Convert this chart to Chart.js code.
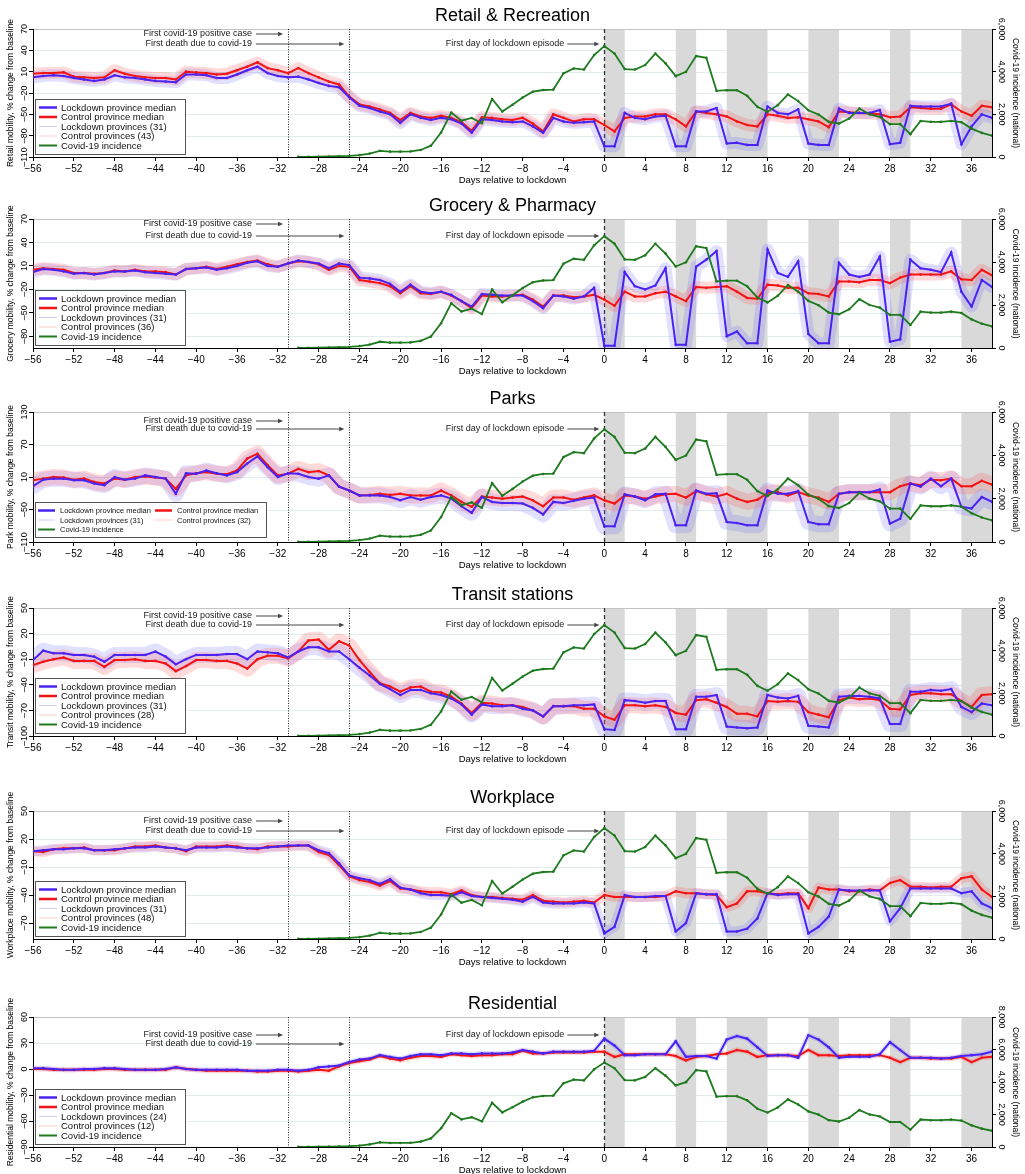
<!DOCTYPE html>
<html>
<head>
<meta charset="utf-8">
<script src="https://cdn.jsdelivr.net/npm/chart.js"></script>
<style>
  html, body { margin: 0; padding: 0; background: #fff; width: 1025px; height: 1174px; overflow: hidden; position: relative; }
  canvas { position: absolute; left: 0; }
</style>
</head>
<body>
<script>
// Días relativos al confinamiento (eje x)
const days = [-56,-55,-54,-53,-52,-51,-50,-49,-48,-47,-46,-45,-44,-43,-42,-41,-40,-39,-38,-37,
  -36,-35,-34,-33,-32,-31,-30,-29,-28,-27,-26,-25,-24,-23,-22,-21,-20,-19,-18,-17,
  -16,-15,-14,-13,-12,-11,-10,-9,-8,-7,-6,-5,-4,-3,-2,-1,0,1,2,3,
  4,5,6,7,8,9,10,11,12,13,14,15,16,17,18,19,20,21,22,23,
  24,25,26,27,28,29,30,31,32,33,34,35,36,37,38];
const xTicks = [-56,-52,-48,-44,-40,-36,-32,-28,-24,-20,-16,-12,-8,-4,0,4,8,12,16,20,24,28,32,36];

// Eventos: primer caso, primera muerte, primer día de confinamiento
const eventDays = [-31, -25, 0];
const eventLabels = ["First covid-19 positive case", "First death due to covid-19", "First day of lockdown episode"];

// Episodios de confinamiento (zonas grises)
const lockdownPeriods = [[0, 2], [7, 9], [12, 16], [20, 23], [28, 30], [35, 38]];

// Incidencia nacional covid-19 (desde el día -30)
const incidence = [null,null,null,null,null,null,null,null,null,null,null,null,null,null,null,null,null,null,null,null,
  null,null,null,null,null,null,
  5,10,15,25,35,50,90,160,290,250,
  250,260,330,530,1150,2080,1700,1830,1580,2720,
  2130,2450,2790,3060,3140,3160,3920,4150,4100,4780,
  5200,4850,4120,4100,4310,4850,4390,3790,3990,4730,
  4650,3100,3130,3130,2870,2350,2120,2430,2930,2620,
  2190,1990,1650,1570,1800,2270,2000,1880,1540,1540,
  1070,1690,1650,1650,1690,1630,1330,1130,1000];

// --- Medianas por panel ---
const retailControl = [7,8,8,9,3,2,1,2,12,7, 4,2,1,1,-1,10,9,8,6,7, 12,17,23,15,12,8,15,8,2,-4,
  -8,-25,-36,-39,-43,-48,-58,-48,-53,-55, -52,-55,-61,-73,-54,-55,-57,-58,-55,-63,
  -74,-50,-55,-60,-57,-57,-65,-74,-55,-53, -53,-50,-50,-57,-67,-46,-48,-50,-53,-60,
  -65,-67,-50,-52,-55,-54,-57,-60,-68,-46, -47,-48,-49,-50,-54,-53,-40,-41,-42,-42, -36,-46,-52,-38,-40];
const retailLockdown = [2,4,5,4,1,-1,-3,-1,5,2, 1,-1,-3,-4,-5,6,6,5,1,1, 6,12,17,8,4,2,3,-1,-6,-10,
  -12,-26,-38,-41,-46,-50,-62,-50,-55,-58, -55,-57,-63,-76,-57,-58,-60,-61,-60,-67,
  -76,-55,-60,-62,-61,-60,-95,-95,-48,-55, -57,-53,-52,-95,-95,-46,-46,-41,-91,-90,
  -93,-93,-39,-48,-50,-43,-91,-93,-93,-42, -48,-48,-48,-44,-92,-90,-38,-39,-39,-39, -35,-92,-67,-50,-55];

const groceryControl = [5,7,6,5,1,1,0,1,4,3, 5,3,3,2,-1,6,7,9,6,9, 12,15,17,12,9,13,16,15,12,5,
  10,9,-8,-10,-12,-16,-25,-16,-25,-26, -23,-28,-35,-44,-28,-29,-29,-28,-27,-33,
  -42,-28,-28,-30,-29,-27,-33,-41,-23,-29, -29,-25,-23,-29,-35,-17,-18,-17,-16,-23,
  -31,-32,-14,-15,-18,-18,-25,-26,-29,-10, -10,-11,-8,-8,-12,-5,-1,-1,-1,-1, 3,-7,-8,5,-2];
const groceryLockdown = [2,6,5,3,0,1,-1,1,3,3, 4,2,1,0,-1,6,7,8,5,7, 10,14,16,10,9,13,17,15,13,7,
  13,11,-5,-6,-8,-13,-23,-14,-23,-25, -23,-27,-35,-42,-26,-27,-28,-28,-28,-35,
  -44,-28,-29,-32,-29,-18,-92,-92,2,-16, -20,-15,7,-91,-91,9,18,29,-80,-74,
  -89,-89,31,1,-4,16,-77,-89,-89,14, -1,-4,-1,22,-87,-84,18,7,5,2, 27,-23,-42,-8,-17];

const parksControl = [4,7,10,9,5,7,1,-2,7,5, 10,11,9,7,-12,13,17,19,16,15, 22,44,53,32,13,16,25,19,21,13,
  -8,-15,-24,-23,-21,-23,-21,-24,-24,-24, -15,-24,-36,-45,-26,-28,-30,-28,-26,-33,
  -44,-28,-28,-32,-28,-24,-33,-39,-24,-26, -30,-26,-22,-21,-28,-16,-22,-26,-21,-30,
  -36,-32,-20,-18,-24,-18,-24,-28,-36,-21, -18,-18,-18,-18,-18,-7,-2,-5,5,4, 7,-7,-7,3,-4];
const parksLockdown = [-7,5,7,7,4,4,-2,-5,10,5, 7,13,10,7,-21,17,16,22,17,13, 19,35,48,28,10,17,16,10,7,13,
  -8,-15,-24,-24,-24,-27,-33,-27,-32,-27, -24,-30,-44,-56,-27,-36,-38,-38,-39,-47,
  -59,-36,-38,-34,-30,-28,-81,-81,-22,-26, -33,-22,-21,-79,-79,-15,-21,-20,-73,-75,
  -79,-79,-15,-21,-21,-16,-73,-77,-77,-21, -18,-18,-18,-13,-76,-67,-2,-8,7,-7, 7,-45,-48,-27,-36];

const transitControl = [-17,-13,-10,-8,-12,-12,-12,-19,-11,-11, -10,-12,-12,-15,-24,-18,-11,-11,-12,-12,
  -15,-21,-10,-6,-6,-9,-1,12,13,1, 11,6,-11,-25,-38,-42,-48,-43,-42,-48,
  -49,-54,-62,-73,-61,-62,-64,-64,-66,-70, -77,-65,-65,-65,-68,-68,-77,-81,-64,-64,
  -65,-64,-66,-73,-75,-58,-57,-61,-66,-74, -74,-77,-59,-60,-59,-60,-72,-75,-78,-58,
  -55,-57,-56,-58,-68,-69,-52,-50,-50,-51, -51,-59,-66,-52,-51];
const transitLockdown = [-11,0,-3,-3,-5,-5,-7,-13,-5,-5, -5,-5,-1,-7,-16,-10,-5,-5,-5,-4,
  -4,-10,-1,-2,-3,-8,-1,4,4,-1, -1,-10,-20,-29,-39,-45,-52,-46,-46,-50,
  -52,-56,-63,-75,-63,-65,-65,-64,-68,-70, -77,-65,-65,-64,-64,-63,-92,-93,-58,-59,
  -61,-59,-59,-92,-92,-54,-54,-52,-89,-90, -91,-90,-52,-55,-56,-53,-88,-89,-90,-54,
  -53,-53,-54,-56,-86,-86,-48,-48,-46,-47, -45,-66,-72,-62,-64];

const workplaceControl = [7,6,9,10,10,11,8,8,8,10, 12,12,13,11,10,7,12,12,12,13, 12,10,9,12,12,12,13,13,6,3,
  -8,-20,-24,-26,-30,-25,-33,-34,-36,-37, -37,-39,-35,-40,-42,-42,-43,-44,-45,-40,
  -46,-47,-48,-47,-46,-48,-40,-42,-42,-42, -42,-42,-41,-36,-38,-38,-39,-40,-53,-49,
  -36,-36,-38,-39,-38,-38,-54,-32,-34,-34, -36,-36,-34,-35,-27,-24,-31,-31,-32,-31, -31,-22,-20,-34,-42];
const workplaceLockdown = [7,8,9,9,10,10,8,8,9,10, 11,11,12,11,10,8,11,11,11,12, 11,10,10,11,12,13,13,13,8,5,
  -6,-19,-22,-24,-28,-23,-32,-34,-38,-40, -40,-41,-37,-41,-42,-43,-44,-45,-47,-42,
  -48,-49,-49,-49,-48,-49,-81,-74,-40,-42, -42,-41,-41,-79,-70,-38,-39,-39,-79,-79,
  -76,-65,-38,-40,-39,-39,-81,-74,-63,-34, -35,-35,-35,-35,-68,-54,-33,-33,-33,-33, -33,-38,-36,-49,-54];

const residentialControl = [0,0,-1,-1,-1,-1,-1,0,0,-1, -1,-1,-1,-1,2,0,-1,-2,-2,-2, -2,-2,-3,-3,-2,-2,-3,-2,-1,-2,
  3,7,9,11,15,12,10,13,15,15, 14,17,16,15,16,16,17,17,21,18,
  18,19,19,19,19,20,20,14,17,17, 17,17,17,15,10,14,15,17,18,22,
  20,14,16,16,16,15,22,16,16,15, 16,16,16,16,13,8,13,13,12,12, 12,14,8,13,14];
const residentialLockdown = [1,1,0,-1,-1,0,0,1,1,0, -1,-1,-1,0,2,0,-1,-1,-1,-1, -1,-2,-2,-2,-1,-1,-2,-1,2,3,
  4,8,11,12,16,14,12,15,17,17, 16,18,18,17,18,18,18,19,22,20,
  18,20,20,20,20,21,35,27,16,16, 17,17,17,32,14,15,15,12,34,38,
  35,25,15,16,16,13,39,34,25,13, 14,14,14,17,31,22,13,13,13,12, 13,15,16,17,20];

// Colores
const BLUE = "#4a22f2";
const RED = "#f21414";
const GREEN = "#1f7a1f";
const BLUE_CLOUD = "rgba(110,100,255,0.2)";
const RED_CLOUD = "rgba(255,70,70,0.2)";
const FONT = '"Liberation Sans", Arial, Helvetica, sans-serif';

Chart.defaults.font.family = FONT;
Chart.defaults.color = "#000";

// Configuración de cada panel (posición del área de dibujo en la página)
const panels = [
  { title: "Retail & Recreation", yTitle: "Retail mobility, % change from baseline",
    top: 29, bottom: 157, yMin: -110, yMax: 70, yTicks: [70, 40, 10, -20, -50, -80, -110],
    rMax: 6000, rTicks: [0, 2000, 4000, 6000], lock: retailLockdown, ctrl: retailControl,
    nLock: 31, nCtrl: 43, cloud: 12, notes: [5, 15, 15], cols: 1 },
  { title: "Grocery & Pharmacy", yTitle: "Grocery mobility, % change from baseline",
    top: 219, bottom: 348, yMin: -95, yMax: 70, yTicks: [70, 40, 10, -20, -50, -80],
    rMax: 6000, rTicks: [0, 2000, 4000, 6000], lock: groceryLockdown, ctrl: groceryControl,
    nLock: 31, nCtrl: 36, cloud: 12, notes: [5, 17, 17], cols: 1 },
  { title: "Parks", yTitle: "Park mobility, % change from baseline",
    top: 412, bottom: 542, yMin: -110, yMax: 130, yTicks: [130, 70, 10, -50, -110],
    rMax: 6000, rTicks: [0, 2000, 4000, 6000], lock: parksLockdown, ctrl: parksControl,
    nLock: 31, nCtrl: 32, cloud: 16, notes: [9, 17, 17], cols: 2 },
  { title: "Transit stations", yTitle: "Transit mobility, % change from baseline",
    top: 608, bottom: 736, yMin: -100, yMax: 50, yTicks: [50, 20, -10, -40, -70, -100],
    rMax: 6000, rTicks: [0, 2000, 4000, 6000], lock: transitLockdown, ctrl: transitControl,
    nLock: 31, nCtrl: 28, cloud: 16, notes: [8, 17, 17], cols: 1 },
  { title: "Workplace", yTitle: "Workplace mobility, % change from baseline",
    top: 811, bottom: 939, yMin: -87, yMax: 50, yTicks: [50, 20, -10, -40, -70],
    rMax: 6000, rTicks: [0, 2000, 4000, 6000], lock: workplaceLockdown, ctrl: workplaceControl,
    nLock: 31, nCtrl: 48, cloud: 10, notes: [10, 20, 20], cols: 1 },
  { title: "Residential", yTitle: "Residential mobility, % change from baseline",
    top: 1017, bottom: 1147, yMin: -90, yMax: 60, yTicks: [60, 30, 0, -30, -60, -90],
    rMax: 8000, rTicks: [0, 2000, 4000, 6000, 8000], lock: residentialLockdown, ctrl: residentialControl,
    nLock: 24, nCtrl: 12, cloud: 5, notes: [18, 27, 18], cols: 1 },
];

const PAD_TOP = 28;
const X_AXIS_H = 36;

function neg(v) {
  return v < 0 ? "\u2212" + Math.abs(v) : String(v);
}
function negShort(v) {
  return v < 0 ? "\u2013" + Math.abs(v) : String(v);
}

function pts(arr) {
  return days.map((d, i) => ({ x: d, y: arr[i] }));
}

function arrow(ctx, x0, x1, y) {
  ctx.strokeStyle = "#444";
  ctx.fillStyle = "#444";
  ctx.lineWidth = 1;
  ctx.beginPath();
  ctx.moveTo(x0, y);
  ctx.lineTo(x1 - 4, y);
  ctx.stroke();
  ctx.beginPath();
  ctx.moveTo(x1, y);
  ctx.lineTo(x1 - 5, y - 2.2);
  ctx.lineTo(x1 - 5, y + 2.2);
  ctx.closePath();
  ctx.fill();
}

function drawLegend(ctx, a, p) {
  const items = [
    { label: "Lockdown province median", color: BLUE, w: 2.5 },
    { label: "Control province median", color: RED, w: 2.5 },
    { label: "Lockdown provinces (" + p.nLock + ")", color: "rgba(120,110,255,0.35)", w: 1 },
    { label: "Control provinces (" + p.nCtrl + ")", color: "rgba(255,100,100,0.35)", w: 1 },
    { label: "Covid-19 incidence", color: GREEN, w: 2 },
  ];
  ctx.save();
  let slots, bx, by, bw, bh, fs, sw;
  if (p.cols === 1) {
    bw = 150; bh = 55; bx = a.left + 2; by = a.bottom - 3 - bh; fs = 9.5; sw = 18;
    slots = items.map((it, i) => ({ x: bx + 4, tx: bx + 26, y: by + 8.5 + i * 9.5 }));
  } else {
    bw = 231; bh = 35; bx = a.left + 2; by = a.bottom - 5 - bh; fs = 7.5; sw = 17;
    const pos = [[0, 0], [1, 0], [0, 1], [1, 1], [0, 2]];
    slots = pos.map(([c, r]) => ({ x: bx + 3 + c * 117, tx: bx + 25 + c * 117, y: by + 8.5 + r * 9.5 }));
  }
  ctx.fillStyle = "#fff";
  ctx.fillRect(bx, by, bw, bh);
  ctx.strokeStyle = "#555";
  ctx.lineWidth = 1;
  ctx.strokeRect(Math.round(bx) + 0.5, Math.round(by) + 0.5, bw, bh);
  ctx.font = fs + "px " + FONT;
  ctx.textAlign = "left";
  ctx.textBaseline = "middle";
  items.forEach((it, i) => {
    const s = slots[i];
    ctx.strokeStyle = it.color;
    ctx.lineWidth = it.w;
    ctx.beginPath();
    ctx.moveTo(s.x, s.y);
    ctx.lineTo(s.x + sw, s.y);
    ctx.stroke();
    ctx.fillStyle = "#111";
    ctx.fillText(it.label, s.tx, s.y + 0.5);
  });
  ctx.restore();
}

function makeDeco(p) {
  return {
    id: "deco",
    beforeDraw(chart) {
      const { ctx, chartArea: a, scales: { x, y } } = chart;
      ctx.save();
      // líneas de cuadrícula claras
      ctx.strokeStyle = "#e2ecec";
      ctx.lineWidth = 1;
      p.yTicks.forEach((v) => {
        const yy = Math.round(y.getPixelForValue(v)) + 0.5;
        ctx.beginPath();
        ctx.moveTo(a.left, yy);
        ctx.lineTo(a.right, yy);
        ctx.stroke();
      });
      // zonas de confinamiento
      ctx.fillStyle = "#d9d9d9";
      lockdownPeriods.forEach(([s, e]) => {
        const x0 = x.getPixelForValue(s);
        const x1 = x.getPixelForValue(e);
        ctx.fillRect(x0, a.top, x1 - x0, a.bottom - a.top);
      });
      // borde superior
      ctx.strokeStyle = "#c4c4c4";
      ctx.beginPath();
      ctx.moveTo(a.left, a.top + 0.5);
      ctx.lineTo(a.right, a.top + 0.5);
      ctx.stroke();
      // título
      ctx.fillStyle = "#000";
      ctx.font = "18px " + FONT;
      ctx.textAlign = "center";
      ctx.textBaseline = "middle";
      ctx.fillText(p.title, (a.left + a.right) / 2, a.top - 13);
      ctx.restore();
    },
    beforeDatasetsDraw(chart) {
      const { ctx, chartArea: a, scales: { x } } = chart;
      ctx.save();
      eventDays.forEach((d, i) => {
        const xx = Math.round(x.getPixelForValue(d)) + 0.5;
        if (i < 2) {
          ctx.setLineDash([1, 1.5]);
          ctx.strokeStyle = "#222";
          ctx.lineWidth = 1;
        } else {
          ctx.setLineDash([4, 3]);
          ctx.strokeStyle = "#333";
          ctx.lineWidth = 1.3;
        }
        ctx.beginPath();
        ctx.moveTo(xx, a.top);
        ctx.lineTo(xx, a.bottom);
        ctx.stroke();
      });
      ctx.restore();
    },
    afterDatasetsDraw(chart) {
      const { ctx, chartArea: a, scales: { x } } = chart;
      ctx.save();
      const xCase = x.getPixelForValue(eventDays[0]);
      const xDeath = x.getPixelForValue(eventDays[1]);
      const xLock = x.getPixelForValue(eventDays[2]);
      ctx.font = "9px " + FONT;
      ctx.textAlign = "right";
      ctx.textBaseline = "middle";
      ctx.fillStyle = "#222";
      const yCase = a.top + p.notes[0];
      const yDeath = a.top + p.notes[1];
      const yLock = a.top + p.notes[2];
      ctx.fillText(eventLabels[0], xCase - 36, yCase);
      arrow(ctx, xCase - 32, xCase - 5, yCase);
      ctx.fillStyle = "#222";
      ctx.fillText(eventLabels[1], xCase - 36, yDeath);
      arrow(ctx, xCase - 32, xDeath - 5, yDeath);
      ctx.fillStyle = "#222";
      ctx.fillText(eventLabels[2], xLock - 40, yLock);
      arrow(ctx, xLock - 37, xLock - 5, yLock);
      ctx.restore();
      drawLegend(ctx, a, p);
    },
    afterDraw(chart) {
      const { ctx, chartArea: a, scales: { y, y2 } } = chart;
      ctx.save();
      ctx.fillStyle = "#000";
      ctx.textAlign = "center";
      ctx.textBaseline = "middle";
      ctx.font = "9px " + FONT;
      p.yTicks.forEach((v) => {
        ctx.save();
        ctx.translate(a.left - 8, y.getPixelForValue(v));
        ctx.rotate(-Math.PI / 2);
        ctx.fillText(negShort(v), 0, 0);
        ctx.restore();
      });
      p.rTicks.forEach((v) => {
        ctx.save();
        ctx.translate(a.right + 9, y2.getPixelForValue(v));
        ctx.rotate(Math.PI / 2);
        ctx.fillText(v.toLocaleString("en-US"), 0, 0);
        ctx.restore();
      });
      ctx.font = "8.5px " + FONT;
      const mid = (a.top + a.bottom) / 2;
      ctx.save();
      ctx.translate(11, mid);
      ctx.rotate(-Math.PI / 2);
      ctx.fillText(p.yTitle, 0, 0);
      ctx.restore();
      ctx.save();
      ctx.translate(a.right + 23, mid);
      ctx.rotate(Math.PI / 2);
      ctx.fillText("Covid-19 incidence (national)", 0, 0);
      ctx.restore();
      ctx.restore();
    },
  };
}

panels.forEach((p) => {
  const cv = document.createElement("canvas");
  const h = PAD_TOP + (p.bottom - p.top) + X_AXIS_H;
  cv.width = 1025;
  cv.height = h;
  cv.style.width = "1025px";
  cv.style.height = h + "px";
  cv.style.top = (p.top - PAD_TOP) + "px";
  document.body.appendChild(cv);

  new Chart(cv.getContext("2d"), {
    type: "line",
    data: {
      datasets: [
        {
          label: "Covid-19 incidence",
          data: pts(incidence),
          yAxisID: "y2",
          borderColor: GREEN,
          backgroundColor: GREEN,
          borderWidth: 1.8,
          pointRadius: 1.3,
          pointBorderWidth: 0,
          spanGaps: false,
          order: 0,
        },
        {
          label: "Lockdown province median",
          data: pts(p.lock),
          yAxisID: "y",
          borderColor: BLUE,
          backgroundColor: BLUE,
          borderWidth: 2,
          pointRadius: 1.3,
          pointBorderWidth: 0,
          order: 1,
        },
        {
          label: "Control province median",
          data: pts(p.ctrl),
          yAxisID: "y",
          borderColor: RED,
          backgroundColor: RED,
          borderWidth: 2,
          pointRadius: 1.3,
          pointBorderWidth: 0,
          order: 2,
        },
        {
          label: "Control provinces (" + p.nCtrl + ")",
          data: pts(p.ctrl),
          yAxisID: "y",
          borderColor: RED_CLOUD,
          borderWidth: p.cloud,
          borderJoinStyle: "round",
          borderCapStyle: "round",
          pointRadius: 0,
          order: 3,
        },
        {
          label: "Lockdown provinces (" + p.nLock + ")",
          data: pts(p.lock),
          yAxisID: "y",
          borderColor: BLUE_CLOUD,
          borderWidth: p.cloud,
          borderJoinStyle: "round",
          borderCapStyle: "round",
          pointRadius: 0,
          order: 4,
        },
      ],
    },
    options: {
      responsive: false,
      animation: false,
      devicePixelRatio: 1,
      layout: { padding: { top: PAD_TOP, left: 0, right: 0, bottom: 0 } },
      elements: { line: { tension: 0 } },
      plugins: {
        legend: { display: false },
        tooltip: { enabled: false },
        title: { display: false },
      },
      scales: {
        x: {
          type: "linear",
          min: -56,
          max: 38,
          afterBuildTicks: (s) => { s.ticks = xTicks.map((v) => ({ value: v })); },
          ticks: { callback: (v) => neg(v), font: { size: 10 }, color: "#000", padding: 2, maxRotation: 0, autoSkip: false },
          grid: { drawOnChartArea: false, drawTicks: true, tickLength: 4, tickColor: "#000" },
          border: { display: true, color: "#000", width: 1 },
          title: { display: true, text: "Days relative to lockdown", font: { size: 9.5 }, color: "#000", padding: { top: 0, bottom: 7 } },
          afterFit: (s) => { s.height = X_AXIS_H; },
        },
        y: {
          position: "left",
          min: p.yMin,
          max: p.yMax,
          afterBuildTicks: (s) => { s.ticks = p.yTicks.map((v) => ({ value: v })); },
          ticks: { display: false },
          grid: { drawOnChartArea: false, drawTicks: true, tickLength: 4, tickColor: "#000" },
          border: { display: true, color: "#000", width: 1 },
          afterFit: (s) => { s.width = 33; },
        },
        y2: {
          position: "right",
          min: 0,
          max: p.rMax,
          afterBuildTicks: (s) => { s.ticks = p.rTicks.map((v) => ({ value: v })); },
          ticks: { display: false },
          grid: { drawOnChartArea: false, drawTicks: true, tickLength: 4, tickColor: "#000" },
          border: { display: true, color: "#000", width: 1 },
          afterFit: (s) => { s.width = 33; },
        },
      },
    },
    plugins: [makeDeco(p)],
  });
});
</script>
</body>
</html>
